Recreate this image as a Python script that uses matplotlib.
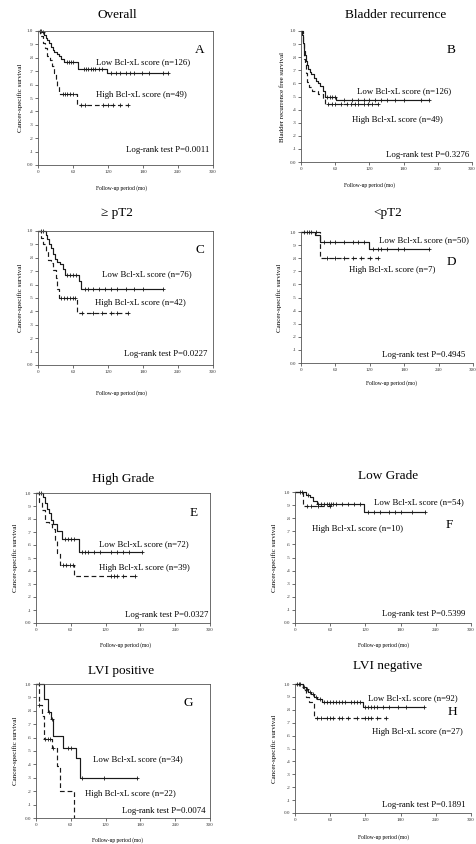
import numpy as np
import matplotlib
matplotlib.use("Agg")
import matplotlib.pyplot as plt

plt.rcParams['font.family'] = ['Liberation Serif', 'DejaVu Serif']

W, H = 476, 844

x_ticks = [0, 60, 120, 180, 240, 300]
y_ticks = [0.0, 0.1, 0.2, 0.3, 0.4, 0.5, 0.6, 0.7, 0.8, 0.9, 1.0]
y_tick_labels = ['0.0', '.1', '.2', '.3', '.4', '.5', '.6', '.7', '.8', '.9', '1.0']

# ---- Panel A: Overall ----
A_low_t = [6, 10, 13, 16, 19, 22, 25, 28, 32, 36, 40, 45, 68, 118]
A_low_s = [0.99, 0.97, 0.95, 0.93, 0.91, 0.88, 0.86, 0.84, 0.83, 0.81, 0.79, 0.77, 0.72, 0.69]
A_low_c = [3, 5, 8, 50, 53, 57, 60, 78, 82, 86, 90, 94, 98, 104, 110, 125, 133, 140, 150, 158, 165, 178, 190, 215, 223]
A_high_t = [4, 8, 12, 16, 20, 24, 27, 30, 33, 36, 66]
A_high_s = [0.96, 0.91, 0.87, 0.81, 0.78, 0.74, 0.69, 0.64, 0.59, 0.53, 0.45]
A_high_c = [42, 46, 50, 55, 60, 74, 80, 112, 120, 128, 140, 154]

# ---- Panel B: Bladder recurrence ----
B_low_t = [2, 3, 4, 5, 6, 7, 8, 9, 11, 13, 15, 18, 22, 26, 30, 34, 38, 42, 62]
B_low_s = [0.97, 0.94, 0.91, 0.88, 0.85, 0.82, 0.79, 0.77, 0.74, 0.71, 0.69, 0.67, 0.64, 0.62, 0.60, 0.58, 0.54, 0.50, 0.47]
B_low_c = [45, 50, 55, 60, 75, 90, 100, 110, 120, 130, 140, 150, 165, 180, 210, 224]
B_high_t = [3, 4, 5, 6, 7, 9, 11, 14, 20, 30, 38, 42]
B_high_s = [0.95, 0.90, 0.84, 0.79, 0.75, 0.68, 0.61, 0.57, 0.54, 0.52, 0.48, 0.44]
B_high_c = [48, 55, 60, 70, 80, 88, 95, 100, 110, 118, 125, 135]

# ---- Panel C: >= pT2 ----
C_low_t = [13, 16, 19, 22, 26, 29, 33, 38, 43, 47, 70, 74]
C_low_s = [0.97, 0.94, 0.90, 0.87, 0.83, 0.79, 0.77, 0.75, 0.72, 0.67, 0.63, 0.57]
C_low_c = [5, 8, 50, 55, 60, 65, 80, 85, 95, 105, 115, 125, 135, 150, 165, 180, 214]
C_high_t = [5, 9, 13, 17, 22, 26, 30, 33, 36, 66]
C_high_s = [0.95, 0.90, 0.85, 0.78, 0.76, 0.71, 0.65, 0.57, 0.50, 0.39]
C_high_c = [40, 45, 50, 55, 60, 63, 75, 95, 110, 125, 135, 154]

# ---- Panel D: <pT2 ----
D_low_t = [25, 33, 119]
D_low_s = [0.98, 0.92, 0.87]
D_low_c = [5, 10, 14, 18, 40, 50, 60, 75, 90, 100, 110, 125, 135, 140, 150, 170, 180, 223]
D_high_t = [33]
D_high_s = [0.80]
D_high_c = [27, 45, 60, 75, 90, 105, 120, 134]

# ---- Panel E: High Grade ----
E_low_t = [12, 16, 19, 22, 25, 30, 36, 45, 74]
E_low_s = [0.97, 0.92, 0.88, 0.85, 0.79, 0.76, 0.71, 0.65, 0.55]
E_low_c = [5, 8, 50, 55, 60, 65, 80, 85, 90, 100, 110, 130, 140, 150, 160, 182]
E_high_t = [5, 10, 16, 22, 28, 33, 36, 41, 66]
E_high_s = [0.93, 0.87, 0.78, 0.76, 0.72, 0.64, 0.54, 0.45, 0.36]
E_high_c = [46, 52, 58, 64, 130, 135, 140, 150, 170]

# ---- Panel F: Low Grade ----
F_low_t = [18, 25, 31, 37, 117]
F_low_s = [0.98, 0.96, 0.93, 0.91, 0.85]
F_low_c = [8, 12, 22, 40, 45, 50, 55, 58, 62, 65, 70, 80, 90, 100, 110, 125, 135, 145, 160, 170, 180, 200, 221]
F_high_t = [14]
F_high_s = [0.89]
F_high_c = [20, 28, 40, 60]

# ---- Panel G: LVI positive ----
G_low_t = [13, 20, 25, 30, 46, 69, 75]
G_low_s = [0.89, 0.79, 0.74, 0.61, 0.52, 0.45, 0.30]
G_low_c = [5, 22, 27, 55, 60, 80, 118, 174]
G_high_t = [5, 10, 14, 28, 36, 41, 65]
G_high_s = [0.84, 0.76, 0.59, 0.52, 0.39, 0.20, 0.0]
G_high_c = [5, 16, 20, 24, 30]

# ---- Panel H: LVI negative ----
H_low_t = [13, 18, 22, 27, 32, 38, 46, 116]
H_low_s = [0.98, 0.96, 0.94, 0.92, 0.90, 0.88, 0.86, 0.82]
H_low_c = [3, 6, 9, 15, 20, 25, 30, 35, 42, 50, 55, 60, 65, 70, 75, 80, 85, 95, 100, 105, 110, 120, 125, 130, 135, 140, 150, 160, 175, 190, 220]
H_high_t = [14, 18, 24, 33]
H_high_s = [0.95, 0.90, 0.86, 0.74]
H_high_c = [37, 45, 55, 60, 65, 75, 80, 90, 105, 120, 125, 130, 140, 155]

titles = ['Overall', 'Bladder recurrence', '\u2265 pT2', '<pT2',
          'High Grade', 'Low Grade', 'LVI positive', 'LVI negative']
letters = ['A', 'B', 'C', 'D', 'E', 'F', 'G', 'H']
low_labels = ['Low Bcl-xL score (n=126)', 'Low Bcl-xL score (n=126)', 'Low Bcl-xL score (n=76)',
              'Low Bcl-xL score (n=50)', 'Low Bcl-xL score (n=72)', 'Low Bcl-xL score (n=54)',
              'Low Bcl-xL score (n=34)', 'Low Bcl-xL score (n=92)']
high_labels = ['High Bcl-xL score (n=49)', 'High Bcl-xL score (n=49)', 'High Bcl-xL score (n=42)',
               'High Bcl-xL score (n=7)', 'High Bcl-xL score (n=39)', 'High Bcl-xL score (n=10)',
               'High Bcl-xL score (n=22)', 'High Bcl-xL score (n=27)']
pvalues = ['0.0011', '0.3276', '0.0227', '0.4945', '0.0327', '0.5399', '0.0074', '0.1891']
ylabels = ['Cancer-specific survival', 'Bladder recurrence free survival'] + ['Cancer-specific survival'] * 6

# layout (pixels): left, right, top, bottom of axes
boxes = [(38, 213, 31, 165), (301, 472, 31, 162),
         (38, 213, 231, 365), (301, 473, 232, 363),
         (36, 210, 493, 623), (295, 471, 492, 623),
         (36, 210, 684, 818), (295, 471, 684, 813)]
full_box = [True, False, True, False, True, False, True, False]
title_pos = [(117, 15), (396, 15), (117, 213), (388, 213),
             (123, 479), (388, 476), (121, 671), (388, 666)]
xlabel_pos = [(122, 188), (369, 185), (122, 393), (391, 383),
              (125, 645), (383, 645), (118, 840), (383, 837)]
ylabel_x = [20, 283, 20, 279, 15, 274, 15, 274]
letter_pos = [(286, 0.86), (271, 0.855), (286, 0.86), (271, 0.77),
              (278, 0.85), (270, 0.75), (271, 0.86), (277, 0.78)]
low_pos = [(100, 0.77), (98, 0.54), (109, 0.68), (136, 0.94),
           (109, 0.61), (134, 0.92), (98, 0.44), (124, 0.89)]
high_pos = [(100, 0.525), (90, 0.32), (97, 0.46), (83, 0.71),
            (109, 0.42), (29, 0.72), (85, 0.18), (131, 0.63)]
p_pos = [(293, 0.11), (296, 0.05), (291, 0.08), (287, 0.06),
         (297, 0.06), (291, 0.07), (293, 0.05), (290, 0.06)]

curves = [
    (A_low_t, A_low_s, A_low_c, A_high_t, A_high_s, A_high_c),
    (B_low_t, B_low_s, B_low_c, B_high_t, B_high_s, B_high_c),
    (C_low_t, C_low_s, C_low_c, C_high_t, C_high_s, C_high_c),
    (D_low_t, D_low_s, D_low_c, D_high_t, D_high_s, D_high_c),
    (E_low_t, E_low_s, E_low_c, E_high_t, E_high_s, E_high_c),
    (F_low_t, F_low_s, F_low_c, F_high_t, F_high_s, F_high_c),
    (G_low_t, G_low_s, G_low_c, G_high_t, G_high_s, G_high_c),
    (H_low_t, H_low_s, H_low_c, H_high_t, H_high_s, H_high_c),
]

fig = plt.figure(figsize=(W / 100, H / 100), dpi=100)
fig.patch.set_facecolor('white')

LC = '#1a1a1a'


def km(ax, t, s, c, ls):
    end = max(max(c) if c else 0, max(t))
    tt = np.array([0] + list(t) + [end], dtype=float)
    ss = np.array([1.0] + list(s) + [s[-1]], dtype=float)
    ax.step(tt, ss, where='post', color=LC, lw=0.85, linestyle=ls, clip_on=False)
    ct = np.array(c, dtype=float)
    idx = np.searchsorted(tt[:-1], ct, side='right') - 1
    cs = ss[idx]
    ax.plot(ct, cs, linestyle='none', marker='+', ms=3, mew=0.6, color=LC, clip_on=False)


for i in range(8):
    l, r, t_, b = boxes[i]
    ax = fig.add_axes([l / W, 1 - b / H, (r - l) / W, (b - t_) / H])
    ax.set_xlim(0, 300)
    ax.set_ylim(0, 1.0)
    lt, ls_, lc, ht, hs, hc = curves[i]
    km(ax, lt, ls_, lc, '-')
    km(ax, ht, hs, hc, (0, (4, 2.5)))
    ax.set_xticks(x_ticks)
    ax.set_xticklabels([str(v) for v in x_ticks])
    ax.set_yticks(y_ticks)
    ax.set_yticklabels(y_tick_labels)
    ax.tick_params(direction='out', length=2, width=0.5, labelsize=3.6, pad=1.5, colors='#333333')
    for sp in ax.spines.values():
        sp.set_linewidth(0.6)
        sp.set_color('#555555')
    if not full_box[i]:
        ax.spines['top'].set_visible(False)
        ax.spines['right'].set_visible(False)
    ax.text(*letter_pos[i], letters[i], fontsize=9.5, ha='right', va='center')
    ax.text(*low_pos[i], low_labels[i], fontsize=6.3, ha='left', va='center')
    ax.text(*high_pos[i], high_labels[i], fontsize=6.3, ha='left', va='center')
    ax.text(*p_pos[i], 'Log-rank test P=' + pvalues[i], fontsize=6.3, ha='right', va='center')
    tx, ty = title_pos[i]
    fig.text(tx / W, 1 - ty / H, titles[i], fontsize=9.5, ha='center', va='center')
    xx, xy = xlabel_pos[i]
    fig.text(xx / W, 1 - xy / H, 'Follow-up period (mo)', fontsize=4, ha='center', va='center')
    fig.text(ylabel_x[i] / W, 1 - ((t_ + b) / 2) / H, ylabels[i], fontsize=5,
             rotation=90, ha='center', va='center')

fig.savefig('out.png', dpi=100, facecolor='white')
